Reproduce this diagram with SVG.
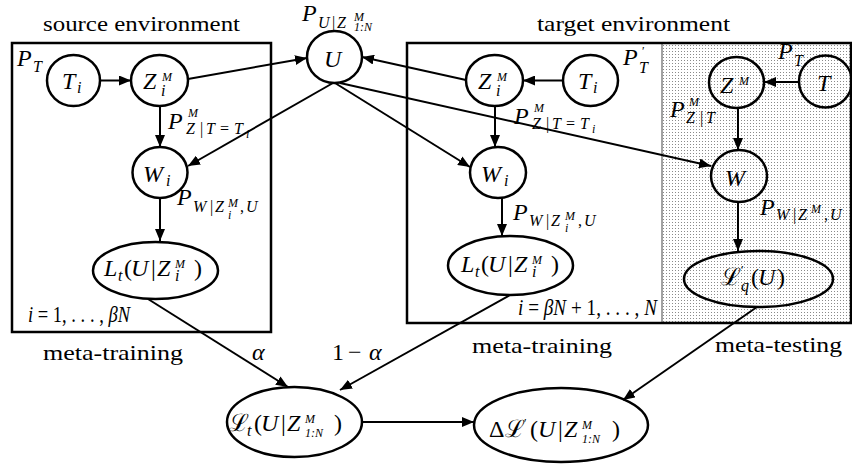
<svg xmlns="http://www.w3.org/2000/svg" width="852" height="464" viewBox="0 0 852 464">
<defs>
<pattern id="dots" width="3" height="3" patternUnits="userSpaceOnUse"><rect width="3" height="3" fill="#fff"/><rect width="1" height="1" fill="#8a8a8a"/></pattern>
<marker id="a" viewBox="0 0 12 10" refX="12" refY="5" markerWidth="12" markerHeight="10" orient="auto" markerUnits="userSpaceOnUse"><path d="M0,0 L12,5 L0,10 z" fill="#000"/></marker>
</defs>
<style>
text{font-family:'Liberation Serif','DejaVu Serif',serif}
.t{font-size:22px;fill:#000}
.v{font-style:italic;font-size:24px;fill:#000}
.r{font-style:normal}
.c{font-family:'DejaVu Serif',serif;font-style:normal}
.n{fill:none;stroke:#000;stroke-width:2.5}
.e{stroke:#000;stroke-width:2;fill:none;marker-end:url(#a)}
.box{fill:none;stroke:#000;stroke-width:2.5}
.s{font-size:16px}
.ss{font-size:12px}
</style>
<rect x="662" y="43" width="189" height="280" fill="url(#dots)"/>
<line x1="662" y1="43" x2="662" y2="323" stroke="#444" stroke-width="1"/>
<g id="frames">
<rect class="box" x="12" y="43" width="259" height="289"/>
<rect class="box" x="407" y="43" width="444" height="280"/>
</g>
<g id="connectors">
<line class="e" x1="100" y1="80.5" x2="131" y2="80.5"/>
<line class="e" x1="188" y1="79" x2="307" y2="58"/>
<line class="e" x1="160" y1="106" x2="160" y2="147"/>
<line class="e" x1="333" y1="83" x2="188" y2="166"/>
<line class="e" x1="160" y1="198" x2="160" y2="241"/>
<line class="e" x1="148" y1="299" x2="288" y2="387"/>
<line class="e" x1="563" y1="80.5" x2="523" y2="80.5"/>
<line class="e" x1="466" y1="80" x2="362" y2="57"/>
<line class="e" x1="495" y1="106" x2="495" y2="147"/>
<line class="e" x1="335" y1="83" x2="470" y2="167"/>
<line class="e" x1="340" y1="83" x2="711" y2="166"/>
<line class="e" x1="502" y1="198" x2="502" y2="236"/>
<line class="e" x1="510" y1="295" x2="340" y2="390"/>
<line class="e" x1="799" y1="82" x2="764" y2="82"/>
<line class="e" x1="738" y1="109" x2="738" y2="150"/>
<line class="e" x1="738" y1="202" x2="738" y2="251"/>
<line class="e" x1="757" y1="307" x2="623" y2="400"/>
<line class="e" x1="362" y1="422" x2="474" y2="422"/>
</g>
<g id="src_T">
<ellipse class="n" cx="73.5" cy="80.5" rx="26.5" ry="25.5"/>
<text class="v"><tspan x="62" y="89">T</tspan><tspan class="s" x="77" y="93">i</tspan></text>
</g>
<g id="src_Z">
<ellipse class="n" cx="159.5" cy="80.5" rx="28.5" ry="25.5"/>
<text class="v"><tspan x="143" y="89">Z</tspan><tspan class="ss" x="162" y="81">M</tspan><tspan class="s" x="161" y="96">i</tspan></text>
</g>
<g id="src_W">
<ellipse class="n" cx="160" cy="172.5" rx="27.5" ry="25.5"/>
<text class="v"><tspan x="143" y="182">W</tspan><tspan class="s" x="166" y="186">i</tspan></text>
</g>
<g id="src_L">
<ellipse class="n" cx="155.5" cy="270.5" rx="62.5" ry="28.5"/>
<text class="v"><tspan x="104" y="276">L</tspan><tspan class="s" x="118" y="281">t</tspan><tspan class="r" x="124" y="276">(</tspan><tspan x="131" y="276">U</tspan><tspan class="r" x="151" y="276">|</tspan><tspan x="157" y="276">Z</tspan><tspan class="ss" x="175" y="268">M</tspan><tspan class="s" x="175" y="281">i</tspan><tspan class="r" x="194" y="276">)</tspan></text>
</g>
<g id="U">
<ellipse class="n" cx="334.5" cy="57" rx="27.5" ry="26"/>
<text class="v" x="324" y="67">U</text>
</g>
<g id="tgt_T">
<ellipse class="n" cx="590.5" cy="80.5" rx="27.5" ry="25.5"/>
<text class="v"><tspan x="578" y="89">T</tspan><tspan class="s" x="593" y="93">i</tspan></text>
</g>
<g id="tgt_Z">
<ellipse class="n" cx="494.5" cy="80.5" rx="28.5" ry="25.5"/>
<text class="v"><tspan x="478" y="89">Z</tspan><tspan class="ss" x="497" y="81">M</tspan><tspan class="s" x="496" y="96">i</tspan></text>
</g>
<g id="tgt_W">
<ellipse class="n" cx="498" cy="172.5" rx="28" ry="25.5"/>
<text class="v"><tspan x="481" y="182">W</tspan><tspan class="s" x="504" y="186">i</tspan></text>
</g>
<g id="tgt_L">
<ellipse class="n" cx="510.5" cy="265.5" rx="62.5" ry="29.5"/>
<text class="v"><tspan x="461" y="272">L</tspan><tspan class="s" x="475" y="277">t</tspan><tspan class="r" x="481" y="272">(</tspan><tspan x="488" y="272">U</tspan><tspan class="r" x="508" y="272">|</tspan><tspan x="514" y="272">Z</tspan><tspan class="ss" x="532" y="264">M</tspan><tspan class="s" x="532" y="277">i</tspan><tspan class="r" x="551" y="272">)</tspan></text>
</g>
<g id="test_Z">
<ellipse class="n" cx="736.5" cy="82.5" rx="27.5" ry="25.5"/>
<text class="v"><tspan x="720" y="93">Z</tspan><tspan class="ss" x="739" y="85">M</tspan></text>
</g>
<g id="test_T">
<ellipse class="n" cx="825.5" cy="81.5" rx="26.5" ry="26"/>
<text class="v" x="817" y="91">T</text>
</g>
<g id="test_W">
<ellipse class="n" cx="739" cy="176" rx="28" ry="26"/>
<text class="v" x="725" y="186">W</text>
</g>
<g id="test_L">
<ellipse class="n" cx="758.5" cy="279" rx="74.5" ry="28"/>
<text class="v"><tspan class="c" x="721" y="285">ℒ</tspan><tspan class="r ss" x="741" y="274">′</tspan><tspan class="s" x="741" y="291">q</tspan><tspan class="r" x="751" y="285">(</tspan><tspan x="758" y="285">U</tspan><tspan class="r" x="777" y="285">)</tspan></text>
</g>
<g id="L_total">
<ellipse class="n" cx="294.5" cy="422" rx="67.5" ry="35"/>
<text class="v"><tspan class="c" x="229" y="431">ℒ</tspan><tspan class="s" x="247" y="436">t</tspan><tspan class="r" x="254" y="431">(</tspan><tspan x="261" y="431">U</tspan><tspan class="r" x="281" y="431">|</tspan><tspan x="287" y="431">Z</tspan><tspan class="ss" x="305" y="423">M</tspan><tspan class="ss" x="305" y="437">1:<tspan font-style="italic">N</tspan></tspan><tspan class="r" x="334" y="431">)</tspan></text>
</g>
<g id="delta_L">
<ellipse class="n" cx="561" cy="425" rx="87" ry="37"/>
<text class="v"><tspan class="r" x="489" y="437">Δ</tspan><tspan class="c" x="505" y="437">ℒ</tspan><tspan class="r ss" x="524" y="427">′</tspan><tspan class="r" x="530" y="437">(</tspan><tspan x="538" y="437">U</tspan><tspan class="r" x="558" y="437">|</tspan><tspan x="564" y="437">Z</tspan><tspan class="ss" x="582" y="429">M</tspan><tspan class="ss" x="582" y="443">1:<tspan font-style="italic">N</tspan></tspan><tspan class="r" x="612" y="437">)</tspan></text>
</g>
<g id="labels">
<text class="t" x="43" y="31" textLength="197" lengthAdjust="spacingAndGlyphs">source environment</text>
<text class="t" x="537" y="31" textLength="193" lengthAdjust="spacingAndGlyphs">target environment</text>
<text class="t" x="43" y="360" textLength="140" lengthAdjust="spacingAndGlyphs">meta-training</text>
<text class="t" x="472" y="353" textLength="140" lengthAdjust="spacingAndGlyphs">meta-training</text>
<text class="t" x="715" y="352" textLength="127" lengthAdjust="spacingAndGlyphs">meta-testing</text>
<text class="v" x="252" y="360" font-size="22">α</text>
<text class="v" font-size="22"><tspan class="r" x="332" y="360">1</tspan><tspan class="r" x="348" y="360">−</tspan><tspan x="369" y="360">α</tspan></text>
<text class="v" font-size="17" x="28" y="322" textLength="102" lengthAdjust="spacingAndGlyphs">i<tspan class="r"> = 1, . . . , </tspan>βN</text>
<text class="v" font-size="17" x="518" y="315" textLength="139" lengthAdjust="spacingAndGlyphs">i<tspan class="r"> = </tspan>βN<tspan class="r"> + 1, . . . , </tspan>N</text>
<text class="v"><tspan x="17" y="66">P</tspan><tspan class="s" x="33" y="72">T</tspan></text>
<text class="v"><tspan x="302" y="21">P</tspan><tspan class="s" x="318" y="28">U</tspan><tspan class="r s" x="332" y="28">|</tspan><tspan class="s" x="337" y="28">Z</tspan><tspan class="ss" x="354" y="21">M</tspan><tspan class="ss" x="354" y="31">1:N</tspan></text>
<text class="v"><tspan x="168" y="129">P</tspan><tspan class="ss" x="188" y="117">M</tspan><tspan class="s" x="186" y="134">Z</tspan><tspan class="r s" x="200" y="134">|</tspan><tspan class="s" x="206" y="134">T</tspan><tspan class="r s" x="220" y="134">=</tspan><tspan class="s" x="234" y="134">T</tspan><tspan class="ss" x="246" y="138">i</tspan></text>
<text class="v"><tspan x="177" y="205">P</tspan><tspan class="s" x="193" y="212">W</tspan><tspan class="r s" x="210" y="212">|</tspan><tspan class="s" x="215" y="212">Z</tspan><tspan class="ss" x="228" y="207">M</tspan><tspan class="ss" x="228" y="219">i</tspan><tspan class="r s" x="240" y="212">,</tspan><tspan class="s" x="246" y="212">U</tspan></text>
<text class="v"><tspan x="623" y="65">P</tspan><tspan class="r ss" x="642" y="55">′</tspan><tspan class="s" x="639" y="73">T</tspan></text>
<text class="v"><tspan x="514" y="124">P</tspan><tspan class="ss" x="534" y="112">M</tspan><tspan class="s" x="532" y="129">Z</tspan><tspan class="r s" x="546" y="129">|</tspan><tspan class="s" x="552" y="129">T</tspan><tspan class="r s" x="566" y="129">=</tspan><tspan class="s" x="580" y="129">T</tspan><tspan class="ss" x="592" y="133">i</tspan></text>
<text class="v"><tspan x="513" y="220">P</tspan><tspan class="s" x="529" y="226">W</tspan><tspan class="r s" x="546" y="226">|</tspan><tspan class="s" x="551" y="226">Z</tspan><tspan class="ss" x="565" y="220">M</tspan><tspan class="ss" x="565" y="232">i</tspan><tspan class="r s" x="578" y="226">,</tspan><tspan class="s" x="584" y="226">U</tspan></text>
<text class="v"><tspan x="778" y="59">P</tspan><tspan class="r ss" x="797" y="50">′</tspan><tspan class="s" x="794" y="66">T</tspan></text>
<text class="v"><tspan x="670" y="117">P</tspan><tspan class="ss" x="689" y="106">M</tspan><tspan class="s" x="686" y="123">Z</tspan><tspan class="r s" x="700" y="123">|</tspan><tspan class="s" x="706" y="123">T</tspan></text>
<text class="v"><tspan x="760" y="215">P</tspan><tspan class="s" x="776" y="220">W</tspan><tspan class="r s" x="793" y="220">|</tspan><tspan class="s" x="798" y="220">Z</tspan><tspan class="ss" x="811" y="213">M</tspan><tspan class="r s" x="824" y="220">,</tspan><tspan class="s" x="830" y="220">U</tspan></text>
</g>
</svg>
